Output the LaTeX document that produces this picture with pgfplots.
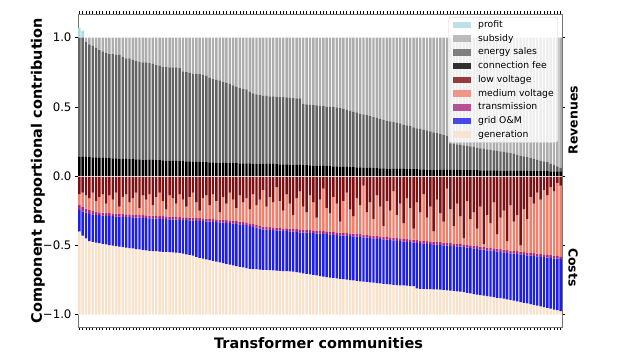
\documentclass[border=0pt]{standalone}
\usepackage{fontspec}
\setmainfont{DejaVu Sans}
\usepackage{pgfplots}
\usepackage{pgfplotstable}
\pgfplotsset{compat=1.18}
\definecolor{cprofit}{HTML}{ADD8E6}
\definecolor{csub}{HTML}{ADADAD}
\definecolor{csales}{HTML}{636363}
\definecolor{cfee}{HTML}{000000}
\definecolor{clv}{HTML}{7C1012}
\definecolor{cmv}{HTML}{F07F6E}
\definecolor{ctr}{HTML}{A8287E}
\definecolor{com}{HTML}{1E1EE6}
\definecolor{cgen}{HTML}{F9E2CC}
\pgfplotsset{mylegend/.style={legend image code/.code={\fill[##1, draw=none, sharp corners] (0bp,-3.3bp) rectangle (18.6bp,3.3bp);}}}
\pgfplotstableread{
i fee sales sub prof lv mv tr om gen
0 0.140 0.860 0 0.07 -0.13 -0.080 -0.035 -0.155 -0.600
1 0.139 0.861 0 0.05 -0.12 -0.102 -0.033 -0.175 -0.570
2 0.138 0.832 0.030 0 -0.14 -0.095 -0.030 -0.185 -0.550
3 0.137 0.813 0.050 0 -0.16 -0.087 -0.028 -0.195 -0.530
4 0.135 0.805 0.060 0 -0.12 -0.132 -0.025 -0.198 -0.525
5 0.134 0.791 0.075 0 -0.18 -0.080 -0.020 -0.200 -0.520
6 0.132 0.778 0.090 0 -0.15 -0.112 -0.020 -0.203 -0.515
7 0.131 0.769 0.100 0 -0.13 -0.135 -0.020 -0.205 -0.510
8 0.130 0.760 0.110 0 -0.20 -0.067 -0.020 -0.207 -0.506
9 0.129 0.751 0.120 0 -0.14 -0.128 -0.020 -0.210 -0.502
10 0.128 0.752 0.120 0 -0.17 -0.100 -0.020 -0.212 -0.498
11 0.127 0.748 0.125 0 -0.12 -0.151 -0.020 -0.215 -0.494
12 0.126 0.749 0.125 0 -0.22 -0.053 -0.020 -0.217 -0.490
13 0.125 0.735 0.140 0 -0.15 -0.124 -0.020 -0.219 -0.487
14 0.124 0.726 0.150 0 -0.13 -0.146 -0.020 -0.221 -0.483
15 0.123 0.727 0.150 0 -0.19 -0.087 -0.020 -0.223 -0.480
16 0.122 0.718 0.160 0 -0.16 -0.119 -0.020 -0.224 -0.477
17 0.121 0.709 0.170 0 -0.12 -0.160 -0.020 -0.227 -0.473
18 0.120 0.705 0.175 0 -0.23 -0.051 -0.020 -0.229 -0.470
19 0.119 0.701 0.180 0 -0.14 -0.143 -0.020 -0.230 -0.467
20 0.118 0.702 0.180 0 -0.17 -0.114 -0.020 -0.233 -0.463
21 0.117 0.698 0.185 0 -0.13 -0.155 -0.020 -0.235 -0.460
22 0.116 0.694 0.190 0 -0.21 -0.076 -0.020 -0.236 -0.458
23 0.115 0.685 0.200 0 -0.15 -0.138 -0.020 -0.235 -0.457
24 0.114 0.681 0.205 0 -0.12 -0.169 -0.020 -0.236 -0.455
25 0.113 0.677 0.210 0 -0.18 -0.110 -0.020 -0.237 -0.453
26 0.112 0.678 0.210 0 -0.24 -0.051 -0.020 -0.237 -0.452
27 0.111 0.674 0.215 0 -0.14 -0.153 -0.020 -0.237 -0.450
28 0.110 0.675 0.215 0 -0.16 -0.134 -0.020 -0.238 -0.448
29 0.109 0.676 0.215 0 -0.20 -0.095 -0.020 -0.238 -0.447
30 0.108 0.672 0.220 0 -0.13 -0.166 -0.020 -0.239 -0.445
31 0.107 0.648 0.245 0 -0.17 -0.128 -0.020 -0.242 -0.440
32 0.106 0.644 0.250 0 -0.22 -0.079 -0.020 -0.246 -0.435
33 0.105 0.640 0.255 0 -0.15 -0.150 -0.020 -0.250 -0.430
34 0.104 0.636 0.260 0 -0.12 -0.181 -0.020 -0.254 -0.425
35 0.103 0.632 0.265 0 -0.19 -0.113 -0.020 -0.260 -0.417
36 0.102 0.633 0.265 0 -0.25 -0.054 -0.020 -0.266 -0.410
37 0.101 0.629 0.270 0 -0.16 -0.145 -0.020 -0.271 -0.404
38 0.100 0.625 0.275 0 -0.14 -0.167 -0.020 -0.274 -0.399
39 0.099 0.611 0.290 0 -0.21 -0.099 -0.020 -0.278 -0.393
40 0.098 0.602 0.300 0 -0.13 -0.181 -0.020 -0.281 -0.388
41 0.097 0.598 0.305 0 -0.18 -0.133 -0.020 -0.285 -0.382
42 0.096 0.594 0.310 0 -0.26 -0.054 -0.020 -0.289 -0.377
43 0.095 0.585 0.320 0 -0.15 -0.166 -0.020 -0.293 -0.371
44 0.094 0.581 0.325 0 -0.20 -0.118 -0.020 -0.296 -0.366
45 0.094 0.571 0.335 0 -0.12 -0.200 -0.020 -0.300 -0.360
46 0.093 0.562 0.345 0 -0.17 -0.153 -0.020 -0.302 -0.355
47 0.093 0.552 0.355 0 -0.23 -0.096 -0.020 -0.304 -0.350
48 0.092 0.543 0.365 0 -0.14 -0.189 -0.020 -0.306 -0.345
49 0.092 0.538 0.370 0 -0.19 -0.142 -0.020 -0.308 -0.340
50 0.091 0.534 0.375 0 -0.16 -0.175 -0.020 -0.310 -0.335
51 0.091 0.519 0.390 0 -0.24 -0.101 -0.020 -0.309 -0.330
52 0.090 0.507 0.403 0 -0.13 -0.217 -0.020 -0.305 -0.328
53 0.090 0.500 0.410 0 -0.21 -0.143 -0.020 -0.300 -0.327
54 0.089 0.496 0.415 0 -0.17 -0.189 -0.020 -0.296 -0.325
55 0.089 0.491 0.420 0 -0.10 -0.265 -0.020 -0.292 -0.323
56 0.088 0.490 0.422 0 -0.22 -0.147 -0.020 -0.291 -0.322
57 0.088 0.487 0.425 0 -0.15 -0.219 -0.020 -0.291 -0.320
58 0.087 0.488 0.425 0 -0.19 -0.181 -0.020 -0.290 -0.319
59 0.086 0.486 0.428 0 -0.08 -0.293 -0.020 -0.290 -0.317
60 0.085 0.485 0.430 0 -0.18 -0.195 -0.020 -0.289 -0.316
61 0.084 0.486 0.430 0 -0.25 -0.127 -0.020 -0.289 -0.314
62 0.084 0.484 0.432 0 -0.13 -0.248 -0.020 -0.289 -0.313
63 0.083 0.482 0.435 0 -0.20 -0.180 -0.020 -0.289 -0.311
64 0.082 0.481 0.437 0 -0.28 -0.102 -0.020 -0.288 -0.310
65 0.081 0.479 0.440 0 -0.16 -0.224 -0.020 -0.290 -0.306
66 0.080 0.480 0.440 0 -0.11 -0.276 -0.020 -0.292 -0.302
67 0.079 0.441 0.480 0 -0.22 -0.168 -0.020 -0.294 -0.298
68 0.078 0.440 0.482 0 -0.26 -0.129 -0.020 -0.297 -0.294
69 0.077 0.438 0.485 0 -0.14 -0.251 -0.020 -0.299 -0.290
70 0.076 0.436 0.488 0 -0.19 -0.203 -0.020 -0.301 -0.286
71 0.075 0.435 0.490 0 -0.30 -0.095 -0.020 -0.303 -0.282
72 0.074 0.433 0.493 0 -0.17 -0.226 -0.020 -0.306 -0.278
73 0.073 0.432 0.495 0 -0.09 -0.308 -0.020 -0.308 -0.274
74 0.072 0.430 0.498 0 -0.23 -0.170 -0.020 -0.310 -0.270
75 0.071 0.429 0.500 0 -0.27 -0.132 -0.020 -0.311 -0.267
76 0.070 0.427 0.503 0 -0.15 -0.254 -0.020 -0.312 -0.264
77 0.069 0.426 0.505 0 -0.20 -0.206 -0.020 -0.313 -0.261
78 0.068 0.422 0.510 0 -0.33 -0.078 -0.020 -0.314 -0.258
79 0.067 0.420 0.513 0 -0.18 -0.230 -0.020 -0.315 -0.255
80 0.066 0.414 0.520 0 -0.12 -0.292 -0.020 -0.316 -0.252
81 0.065 0.405 0.530 0 -0.24 -0.174 -0.020 -0.317 -0.249
82 0.064 0.401 0.535 0 -0.29 -0.126 -0.020 -0.318 -0.246
83 0.063 0.397 0.540 0 -0.16 -0.258 -0.020 -0.319 -0.243
84 0.062 0.388 0.550 0 -0.21 -0.210 -0.020 -0.320 -0.240
85 0.061 0.384 0.555 0 -0.07 -0.353 -0.020 -0.320 -0.237
86 0.060 0.380 0.560 0 -0.26 -0.165 -0.020 -0.320 -0.235
87 0.059 0.373 0.568 0 -0.19 -0.238 -0.020 -0.320 -0.232
88 0.058 0.367 0.575 0 -0.31 -0.120 -0.020 -0.320 -0.230
89 0.057 0.363 0.580 0 -0.14 -0.293 -0.020 -0.320 -0.227
90 0.056 0.357 0.587 0 -0.22 -0.215 -0.020 -0.320 -0.225
91 0.055 0.352 0.593 0 -0.36 -0.078 -0.020 -0.320 -0.222
92 0.054 0.346 0.600 0 -0.18 -0.260 -0.020 -0.320 -0.220
93 0.053 0.342 0.605 0 -0.25 -0.193 -0.020 -0.320 -0.217
94 0.052 0.338 0.610 0 -0.11 -0.335 -0.020 -0.320 -0.215
95 0.052 0.333 0.615 0 -0.28 -0.168 -0.020 -0.319 -0.213
96 0.051 0.329 0.620 0 -0.20 -0.250 -0.020 -0.319 -0.211
97 0.051 0.321 0.628 0 -0.34 -0.113 -0.020 -0.317 -0.210
98 0.050 0.315 0.635 0 -0.16 -0.295 -0.020 -0.317 -0.208
99 0.050 0.310 0.640 0 -0.23 -0.228 -0.020 -0.316 -0.206
100 0.049 0.303 0.648 0 -0.38 -0.080 -0.020 -0.315 -0.205
101 0.049 0.296 0.655 0 -0.19 -0.273 -0.020 -0.329 -0.188
102 0.048 0.292 0.660 0 -0.26 -0.205 -0.020 -0.329 -0.186
103 0.048 0.287 0.665 0 -0.13 -0.338 -0.020 -0.327 -0.185
104 0.047 0.283 0.670 0 -0.30 -0.170 -0.020 -0.326 -0.184
105 0.047 0.275 0.678 0 -0.22 -0.252 -0.020 -0.325 -0.183
106 0.046 0.269 0.685 0 -0.40 -0.074 -0.020 -0.324 -0.182
107 0.046 0.264 0.690 0 -0.17 -0.306 -0.020 -0.323 -0.181
108 0.045 0.258 0.697 0 -0.27 -0.208 -0.020 -0.322 -0.180
109 0.045 0.251 0.704 0 -0.33 -0.150 -0.020 -0.322 -0.178
110 0.045 0.245 0.710 0 -0.09 -0.392 -0.020 -0.323 -0.175
111 0.044 0.191 0.765 0 -0.24 -0.244 -0.020 -0.323 -0.173
112 0.044 0.188 0.768 0 -0.36 -0.126 -0.020 -0.324 -0.170
113 0.044 0.184 0.772 0 -0.20 -0.288 -0.020 -0.324 -0.168
114 0.043 0.182 0.775 0 -0.29 -0.200 -0.020 -0.325 -0.165
115 0.043 0.179 0.778 0 -0.45 -0.043 -0.020 -0.326 -0.161
116 0.043 0.175 0.782 0 -0.18 -0.316 -0.020 -0.327 -0.157
117 0.042 0.173 0.785 0 -0.31 -0.190 -0.020 -0.328 -0.152
118 0.042 0.168 0.790 0 -0.26 -0.243 -0.020 -0.329 -0.148
119 0.042 0.163 0.795 0 -0.38 -0.126 -0.020 -0.330 -0.144
120 0.041 0.159 0.800 0 -0.22 -0.289 -0.020 -0.331 -0.140
121 0.041 0.156 0.803 0 -0.49 -0.022 -0.020 -0.332 -0.136
122 0.041 0.152 0.807 0 -0.28 -0.236 -0.020 -0.331 -0.133
123 0.040 0.150 0.810 0 -0.34 -0.179 -0.020 -0.332 -0.129
124 0.040 0.146 0.814 0 -0.19 -0.332 -0.020 -0.333 -0.125
125 0.040 0.142 0.818 0 -0.42 -0.105 -0.020 -0.334 -0.121
126 0.039 0.139 0.822 0 -0.30 -0.228 -0.020 -0.334 -0.118
127 0.039 0.135 0.826 0 -0.25 -0.282 -0.020 -0.334 -0.114
128 0.039 0.131 0.830 0 -0.47 -0.065 -0.020 -0.335 -0.110
129 0.038 0.127 0.835 0 -0.21 -0.328 -0.020 -0.337 -0.105
130 0.038 0.122 0.840 0 -0.33 -0.211 -0.020 -0.339 -0.100
131 0.038 0.116 0.846 0 -0.28 -0.263 -0.020 -0.342 -0.095
132 0.037 0.111 0.852 0 -0.50 -0.046 -0.020 -0.344 -0.090
133 0.037 0.105 0.858 0 -0.24 -0.309 -0.020 -0.346 -0.085
134 0.037 0.099 0.864 0 -0.31 -0.242 -0.020 -0.348 -0.080
135 0.036 0.094 0.870 0 -0.15 -0.405 -0.020 -0.350 -0.075
136 0.036 0.088 0.876 0 -0.20 -0.357 -0.020 -0.353 -0.070
137 0.036 0.082 0.882 0 -0.12 -0.440 -0.020 -0.356 -0.064
138 0.035 0.077 0.888 0 -0.17 -0.393 -0.020 -0.358 -0.059
139 0.035 0.071 0.894 0 -0.10 -0.466 -0.020 -0.361 -0.053
140 0.035 0.065 0.900 0 -0.14 -0.429 -0.020 -0.363 -0.048
141 0.034 0.056 0.910 0 -0.08 -0.491 -0.020 -0.367 -0.042
142 0.034 0.046 0.920 0 -0.11 -0.464 -0.020 -0.370 -0.036
143 0.034 0.036 0.930 0 -0.05 -0.527 -0.020 -0.372 -0.031
144 0.033 0.027 0.940 0 -0.07 -0.510 -0.020 -0.375 -0.025
}\data
\begin{document}
\begin{tikzpicture}
\path[use as bounding box] (-78bp,-33bp) rectangle (546bp,327bp);
% costs
\begin{axis}[
  scale only axis, width=484bp, height=313bp,
  xmin=-0.4, xmax=144.4, ymin=-1.09, ymax=1.17,
  clip=false,
  ybar stacked, bar width=0.72,
  xtick={0,...,144}, xticklabel={\relax},
  ytick={-1,-0.5,0,0.5,1}, yticklabels={−1.0,−0.5,0.0,0.5,1.0},
  tick align=outside, major tick length=3bp,
  tick style={black, line width=0.5bp},
  axis line style={black!55, line width=0.8bp},
  ticklabel style={font=\fontsize{11.8}{14}\selectfont},
  xlabel={Transformer communities},
  ylabel={Component proportional contribution},
  label style={font=\bfseries\fontsize{14.5}{17}\selectfont},
  xlabel style={at={(axis description cs:0.497,-0.051)}, anchor=center},
  ylabel style={at={(axis description cs:-0.083,0.5)}, anchor=center},
]
\addplot[fill=clv, draw=none] table[x=i, y=lv] {\data};
\addplot[fill=cmv, draw=none] table[x=i, y=mv] {\data};
\addplot[fill=ctr, draw=none] table[x=i, y=tr] {\data};
\addplot[fill=com, draw=none] table[x=i, y=om] {\data};
\addplot[fill=cgen, draw=none] table[x=i, y=gen] {\data};
\node[rotate=90, anchor=center, font=\bfseries\fontsize{12.5}{14}\selectfont] at (rel axis cs:1.023,0.661) {Revenues};
\node[rotate=-90, anchor=center, font=\bfseries\fontsize{12.5}{14}\selectfont] at (rel axis cs:1.023,0.19) {Costs};
\end{axis}
% revenues
\begin{axis}[
  scale only axis, width=484bp, height=313bp,
  xmin=-0.4, xmax=144.4, ymin=-1.09, ymax=1.17,
  hide axis, ybar stacked, bar width=0.72,
]
\addplot[fill=cfee, draw=none] table[x=i, y=fee] {\data};
\addplot[fill=csales, draw=none] table[x=i, y=sales] {\data};
\addplot[fill=csub, draw=none] table[x=i, y=sub] {\data};
\addplot[fill=cprofit, draw=none] table[x=i, y=prof] {\data};
\end{axis}
% zero line and legend
\begin{axis}[
  scale only axis, width=484bp, height=313bp,
  xmin=-0.4, xmax=144.4, ymin=-1.09, ymax=1.17,
  hide axis,
  legend cell align=left,
  legend style={at={(0.9917,0.9904)}, anchor=north east,
    draw=black!18, rounded corners=2.5bp, fill=white, fill opacity=0.8, text opacity=1,
    font=\fontsize{9.3}{11}\selectfont,
    inner xsep=4bp, inner ysep=3.5bp, row sep=4.9bp,
    nodes={inner sep=0pt, text height=6.9bp, text depth=1.9bp},
    /tikz/every odd column/.append style={column sep=6.8bp}},
]
\addplot[white, opacity=0.75, line width=0.7bp, forget plot] coordinates {(-0.4,0) (144.4,0)};
\addlegendimage{mylegend, fill=cprofit}\addlegendentry{profit}
\addlegendimage{mylegend, fill=csub}\addlegendentry{subsidy}
\addlegendimage{mylegend, fill=csales}\addlegendentry{energy sales}
\addlegendimage{mylegend, fill=cfee}\addlegendentry{connection fee}
\addlegendimage{mylegend, fill=clv}\addlegendentry{low voltage}
\addlegendimage{mylegend, fill=cmv}\addlegendentry{medium voltage}
\addlegendimage{mylegend, fill=ctr}\addlegendentry{transmission}
\addlegendimage{mylegend, fill=com}\addlegendentry{grid O\&M}
\addlegendimage{mylegend, fill=cgen}\addlegendentry{generation}
\end{axis}
\end{tikzpicture}
\end{document}
